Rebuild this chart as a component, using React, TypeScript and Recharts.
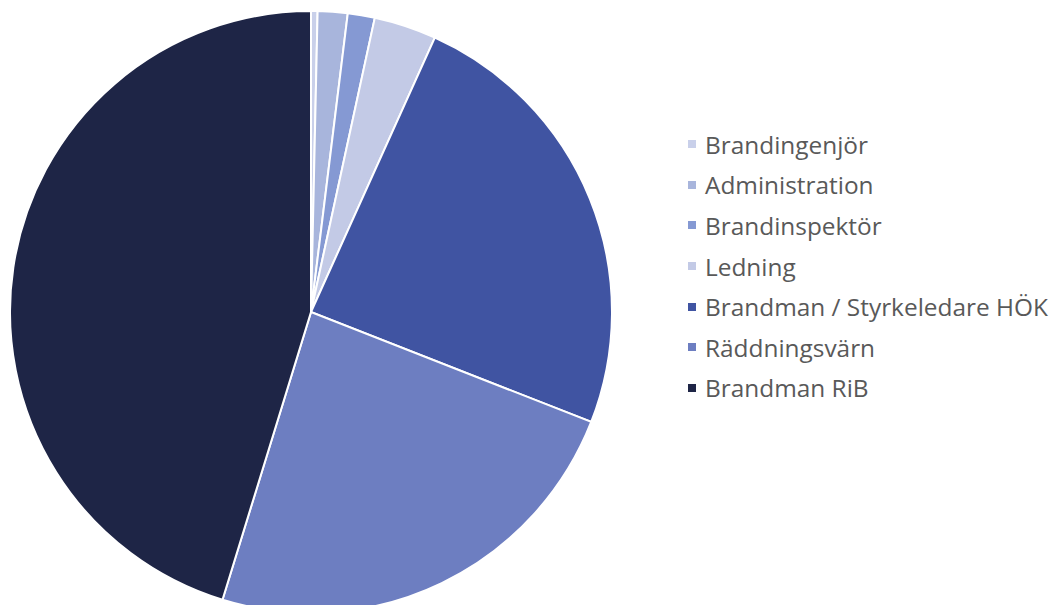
import { Pie, PieChart, Cell } from 'recharts'

const categories = [
  'Brandingenjör',
  'Administration',
  'Brandinspektör',
  'Ledning',
  'Brandman / Styrkeledare HÖK',
  'Räddningsvärn',
  'Brandman RiB',
]
const values = [0.35, 1.6, 1.45, 3.35, 24.2, 23.8, 45.25]
const colors = ['#c9d0ea', '#a8b5dc', '#8599d3', '#c3cae6', '#4054a2', '#6d7ec1', '#1e2546']

const data = categories.map((name, i) => ({ name, value: values[i] }))

function LegendBox() {
  return (
    <div
      style={{
        position: 'absolute',
        left: 688,
        top: 124,
        fontFamily: '"Open Sans", sans-serif',
        fontSize: 24.4,
        color: '#595959',
      }}
    >
      {categories.map((c, i) => (
        <div key={c} style={{ display: 'flex', alignItems: 'center', height: 40.6 }}>
          <span
            style={{
              width: 8,
              height: 8,
              background: colors[i],
              marginRight: 9,
              display: 'inline-block',
            }}
          />
          <span>{c}</span>
        </div>
      ))}
    </div>
  )
}

export default function App() {
  return (
    <div style={{ position: 'absolute', left: 0, top: 0, width: 1051, height: 605, background: '#fff' }}>
      <PieChart width={1051} height={605}>
        <Pie
          data={data}
          dataKey="value"
          nameKey="name"
          cx={306}
          cy={307}
          outerRadius={301}
          startAngle={90}
          endAngle={-270}
          stroke="#ffffff"
          strokeWidth={2}
          isAnimationActive={false}
        >
          {data.map((d, i) => (
            <Cell key={d.name} fill={colors[i]} />
          ))}
        </Pie>
      </PieChart>
      <LegendBox />
    </div>
  )
}
